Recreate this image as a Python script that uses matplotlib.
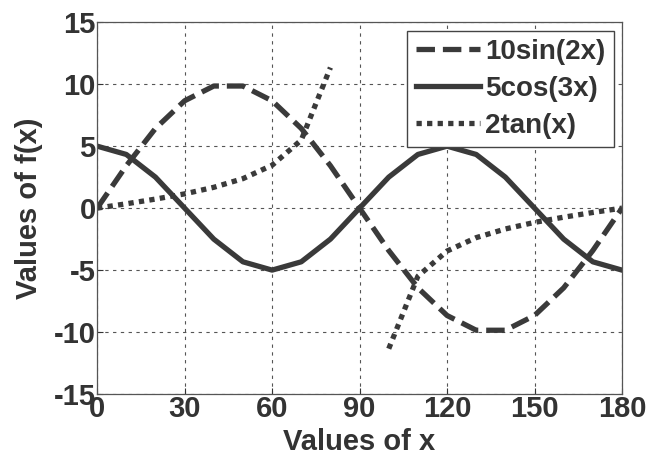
import numpy as np
import matplotlib
matplotlib.use('Agg')
import matplotlib.pyplot as plt

plt.rcParams['font.family'] = ['Liberation Sans', 'DejaVu Sans']
plt.rcParams['font.weight'] = 'bold'
plt.rcParams['axes.unicode_minus'] = False

# x in degrees, sampled every 10 degrees
x_deg = [0, 10, 20, 30, 40, 50, 60, 70, 80, 90,
         100, 110, 120, 130, 140, 150, 160, 170, 180]

# values
sin_vals = [0, 3.42, 6.43, 8.66, 9.85, 9.85, 8.66, 6.43, 3.42, 0,
            -3.42, -6.43, -8.66, -9.85, -9.85, -8.66, -6.43, -3.42, 0]
cos_vals = [5, 4.33, 2.5, 0, -2.5, -4.33, -5, -4.33, -2.5, 0,
            2.5, 4.33, 5, 4.33, 2.5, 0, -2.5, -4.33, -5]
# tan blows up at 90, left as a gap
tan_vals = [0, 0.35, 0.73, 1.15, 1.68, 2.38, 3.46, 5.49, 11.34, np.nan,
            -11.34, -5.49, -3.46, -2.38, -1.68, -1.15, -0.73, -0.35, 0]

x_ticks = [0, 30, 60, 90, 120, 150, 180]
y_ticks = [-15, -10, -5, 0, 5, 10, 15]

line_col = '#3a3a3a'

fig = plt.figure(figsize=(6.52, 4.62), dpi=100)
ax = fig.add_axes([0.149, 0.147, 0.805, 0.805])

ax.plot(x_deg, sin_vals, linestyle=(0, (3.5, 1.5)), color=line_col, lw=3.8, label='10sin(2x)')
ax.plot(x_deg, cos_vals, linestyle='-', color=line_col, lw=3.8, label='5cos(3x)')
ax.plot(x_deg, tan_vals, linestyle=(0, (1.0, 1.0)), color=line_col, lw=3.8, label='2tan(x)')

ax.set_xlim(0, 180)
ax.set_ylim(-15, 15)
ax.set_xticks(x_ticks)
ax.set_yticks(y_ticks)
ax.grid(True, linestyle=(0, (3, 4)), color='#555555', lw=0.8)
ax.tick_params(direction='in', labelsize=21, colors='#333333', length=4, pad=1)
for s in ax.spines.values():
    s.set_color('#555555')
    s.set_linewidth(0.9)

ax.set_xlabel('Values of x', fontsize=21, fontweight='bold', color='#333333', labelpad=3)
ax.set_ylabel('Values of f(x)', fontsize=21, fontweight='bold', color='#333333', labelpad=8)

leg = ax.legend(loc='upper right', fontsize=20, handlelength=2.3, handletextpad=0.2,
                borderpad=0.3, labelspacing=0.4, fancybox=False, framealpha=1,
                edgecolor='#444444', borderaxespad=0.3)
for t in leg.get_texts():
    t.set_color('#333333')

fig.savefig('out.png', dpi=100)
